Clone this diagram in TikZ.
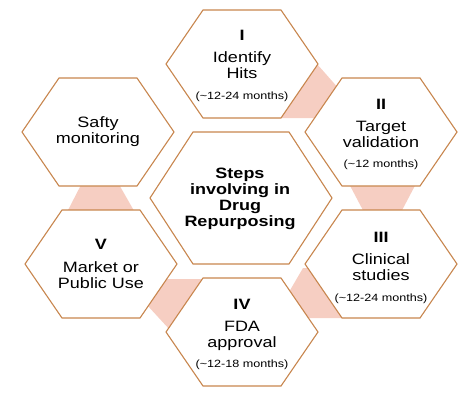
\documentclass[tikz,border=0pt]{standalone}
\usepackage{fontspec}
\setmainfont{Liberation Sans}[FakeStretch=1.2]
\definecolor{bordhex}{RGB}{200,134,78}
\definecolor{rose}{RGB}{246,206,194}
\tikzset{
  hexa/.style={draw=bordhex,line width=1.1pt,fill=white,line join=miter},
  liaison/.style={fill=rose},
  etape/.style={align=center,font=\fontsize{15}{16}\selectfont,inner sep=0pt},
}
\newcommand{\duree}[1]{{\fontsize{10.5}{12}\selectfont(\textasciitilde#1 months)}}
\begin{document}
\begin{tikzpicture}[x=1pt,y=-1pt]
\useasboundingbox (0,0) rectangle (474,404);
%					Tracé des liaisons :
\fill[liaison] (317,64) -- (340,90) -- (318,118) -- (270,118) -- cycle;
\fill[liaison] (347,180) -- (418,180) -- (399,216) -- (366,216) -- cycle;
\fill[liaison] (303,268) -- (320,268) -- (345,318) -- (300,318) -- (289,292) -- cycle;
\fill[liaison] (160,279) -- (210,279) -- (170,330) -- (147,305) -- cycle;
\fill[liaison] (83,181) -- (117,181) -- (137,216) -- (65,216) -- cycle;
%					Tracé des hexagones :
\foreach \nom/\x/\y in {h1/242/64, h2/381/132, h3/381/264, h4/242/332, h5/101/264, h6/98/132} {
  \coordinate (\nom) at (\x,\y);
  \draw[hexa] (\nom) ++(-76,0) -- ++(37,-54) -- ++(78,0) -- ++(37,54) -- ++(-37,54) -- ++(-78,0) -- cycle;
}
\coordinate (h0) at (241,198);
\draw[hexa] (h0) ++(-91,0) -- ++(43,-66) -- ++(96,0) -- ++(43,66) -- ++(-43,66) -- ++(-96,0) -- cycle;
%					Textes des étapes :
\node[etape] (t0) at (240,199) {\bfseries Steps\\\bfseries involving in\\\bfseries Drug\\\bfseries Repurposing};
\node[etape] (t1) at (242,66) {\textbf{I}\\[6pt]Identify\\Hits\\[5pt]\duree{12-24}};
\node[etape] (t2) at (381,134) {\textbf{II}\\[6pt]Target\\validation\\[4pt]\duree{12}};
\node[etape] (t3) at (381,268) {\textbf{III}\\[6pt]Clinical\\studies\\[5pt]\duree{12-24}};
\node[etape] (t4) at (242,334) {\textbf{IV}\\[6pt]FDA\\approval\\[4pt]\duree{12-18}};
\node[etape] (t5) at (101,264) {\textbf{V}\\[7pt]Market or\\Public Use};
\node[etape] (t6) at (98,132) {Safty\\monitoring};
\end{tikzpicture}
\end{document}
